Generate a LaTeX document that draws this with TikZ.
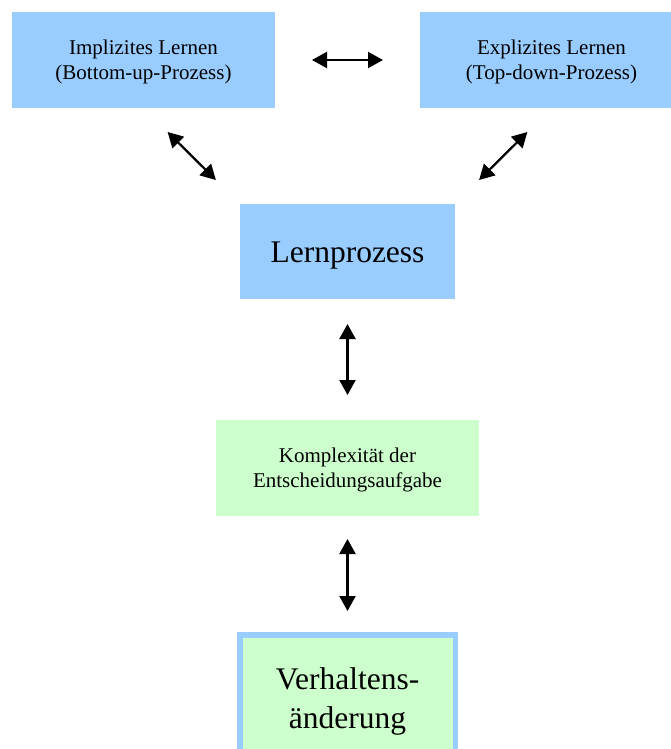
\documentclass[tikz,border=0pt]{standalone}
\usepackage{fontspec}
\setmainfont{Liberation Serif}
\usetikzlibrary{arrows.meta}
\definecolor{boxblue}{HTML}{99CCFF}
\definecolor{boxgreen}{HTML}{CCFFCC}
\newcommand{\smalltext}{\fontsize{21}{24.4}\selectfont}
\newcommand{\bigtext}{\fontsize{31.5}{39}\selectfont}
\begin{document}
\begin{tikzpicture}[x=1pt, y=-1pt,
  card/.style={draw=none, inner sep=0pt, outer sep=0pt, align=center},
  bluecard/.style={card, fill=boxblue},
  greencard/.style={card, fill=boxgreen},
  twoline/.style={font=\smalltext, minimum width=263pt, minimum height=96pt,
                  text height=40pt, text depth=1.2pt},
  dbl/.style={>={Triangle[length=15pt,width=16pt]}, <->, line width=2.2pt}]
\useasboundingbox (0,0) rectangle (670,749);

% learning modes
\node[bluecard, twoline] (impl) at (143.5,60) {Implizites Lernen\\(Bottom-up-Prozess)};
\node[bluecard, twoline] (expl) at (551.5,60) {Explizites Lernen\\(Top-down-Prozess)};

% central process
\node[bluecard, font=\bigtext, minimum width=215pt, minimum height=95pt,
      text height=24pt, text depth=2.4pt] (lern) at (347.5,251.5) {Lernprozess};

% task complexity
\node[greencard, twoline, text depth=1.8pt] (komp) at (347.5,468)
  {Komplexität der\\Entscheidungsaufgabe};

% outcome
\node[greencard, draw=boxblue, line width=5.5pt, outer sep=2.75pt, font=\bigtext,
      minimum width=215.5pt, minimum height=133.1pt,
      text height=56pt, text depth=2pt] (verh) at (347.5,701.3)
  {Verhaltens-\\änderung};

% connections
\draw[dbl, shorten <=37pt, shorten >=37pt] (impl.east) -- (expl.west);
\draw[dbl, shorten <=34pt, shorten >=34pt] (impl.south) -- (lern.north west);
\draw[dbl, shorten <=34pt, shorten >=34pt] (expl.south) -- (lern.north east);
\draw[dbl, shorten <=25pt, shorten >=25pt] (lern.south) -- (komp.north);
\draw[dbl, shorten <=23pt, shorten >=21pt] (komp.south) -- (verh.north);
\end{tikzpicture}
\end{document}
